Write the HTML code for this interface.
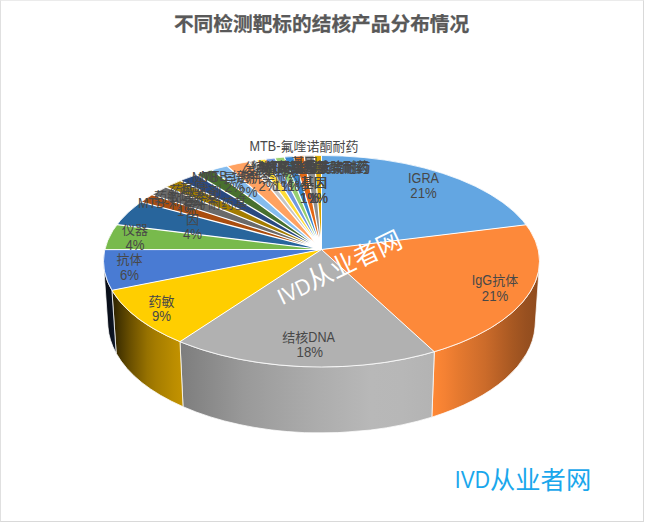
<!DOCTYPE html>
<html lang="zh"><head><meta charset="utf-8"><title>不同检测靶标的结核产品分布情况</title>
<style>
html,body{margin:0;padding:0;background:#fff;}
body{width:645px;height:524px;position:relative;overflow:hidden;}
#frame{position:absolute;left:0;top:0;width:642px;height:520px;border-top:1px solid #ebebeb;border-left:1px solid #e0e0e0;border-right:1px solid #d9d9d9;border-bottom:1px solid #d9d9d9;box-sizing:content-box;}
</style></head><body>
<div id="frame"></div>
<svg width="645" height="524" viewBox="0 0 645 524" style="position:absolute;left:0;top:0">
<defs><radialGradient id="burst"><stop offset="0" stop-color="#fff" stop-opacity="1"/><stop offset="0.6" stop-color="#fff" stop-opacity="0.8"/><stop offset="1" stop-color="#fff" stop-opacity="0"/></radialGradient><linearGradient id="g1" gradientUnits="userSpaceOnUse" x1="431.9" y1="0" x2="539.3" y2="0"><stop offset="0.000" stop-color="#FF8835"/><stop offset="0.125" stop-color="#F48133"/><stop offset="0.250" stop-color="#E5792F"/><stop offset="0.375" stop-color="#D8722D"/><stop offset="0.500" stop-color="#CB6B2A"/><stop offset="0.625" stop-color="#B96126"/><stop offset="0.750" stop-color="#A75822"/><stop offset="0.875" stop-color="#985020"/><stop offset="1.000" stop-color="#8F4B1D"/></linearGradient><linearGradient id="g2" gradientUnits="userSpaceOnUse" x1="180.0" y1="0" x2="434.3" y2="0"><stop offset="0.000" stop-color="#7D7D7D"/><stop offset="0.125" stop-color="#8B8B8B"/><stop offset="0.250" stop-color="#999999"/><stop offset="0.375" stop-color="#A2A2A2"/><stop offset="0.500" stop-color="#AAAAAA"/><stop offset="0.625" stop-color="#B1B1B1"/><stop offset="0.750" stop-color="#B8B8B8"/><stop offset="0.875" stop-color="#B7B7B7"/><stop offset="1.000" stop-color="#B3B3B3"/></linearGradient><linearGradient id="g3" gradientUnits="userSpaceOnUse" x1="111.9" y1="0" x2="183.0" y2="0"><stop offset="0.000" stop-color="#291F00"/><stop offset="0.125" stop-color="#4B3900"/><stop offset="0.250" stop-color="#684E00"/><stop offset="0.375" stop-color="#806000"/><stop offset="0.500" stop-color="#977200"/><stop offset="0.625" stop-color="#A67D00"/><stop offset="0.750" stop-color="#B08500"/><stop offset="0.875" stop-color="#BB8D00"/><stop offset="1.000" stop-color="#C49300"/></linearGradient><linearGradient id="g4" gradientUnits="userSpaceOnUse" x1="103.7" y1="0" x2="116.2" y2="0"><stop offset="0.000" stop-color="#070B14"/><stop offset="0.125" stop-color="#070C15"/><stop offset="0.250" stop-color="#080E18"/><stop offset="0.375" stop-color="#090F1A"/><stop offset="0.500" stop-color="#0A101C"/><stop offset="0.625" stop-color="#0B121F"/><stop offset="0.750" stop-color="#0C1423"/><stop offset="0.875" stop-color="#0E1727"/><stop offset="1.000" stop-color="#0F1A2C"/></linearGradient></defs>
<g><path d="M539.35 265.19 A218.00 105.75 0 0 1 434.30 351.74 L431.86 417.14 A213.67 110.36 0 0 0 535.01 327.00 Z" fill="url(#g1)" stroke="#fff" stroke-opacity="0.75" stroke-width="1" stroke-linejoin="round"/><path d="M434.30 351.74 A218.00 105.75 0 0 1 179.98 341.68 L183.02 406.68 A213.67 110.36 0 0 0 431.86 417.14 Z" fill="url(#g2)" stroke="#fff" stroke-opacity="0.75" stroke-width="1" stroke-linejoin="round"/><path d="M179.98 341.68 A218.00 105.75 0 0 1 111.90 290.32 L116.18 353.20 A213.67 110.36 0 0 0 183.02 406.68 Z" fill="url(#g3)" stroke="#fff" stroke-opacity="0.75" stroke-width="1" stroke-linejoin="round"/><path d="M111.90 290.32 A218.00 105.75 0 0 1 103.65 265.19 L107.99 327.00 A213.67 110.36 0 0 0 116.18 353.20 Z" fill="url(#g4)" stroke="#fff" stroke-opacity="0.75" stroke-width="1" stroke-linejoin="round"/></g>
<g><path d="M321.50 249.50 L321.50 155.50 A218.00 105.75 0 0 1 526.12 224.77 Z" fill="#63A6E2"/><path d="M321.50 249.50 L526.12 224.77 A218.00 105.75 0 0 1 434.30 351.74 Z" fill="#FD893A"/><path d="M321.50 249.50 L434.30 351.74 A218.00 105.75 0 0 1 179.98 341.68 Z" fill="#B1B1B1"/><path d="M321.50 249.50 L179.98 341.68 A218.00 105.75 0 0 1 111.90 290.32 Z" fill="#FFCE00"/><path d="M321.50 249.50 L111.90 290.32 A218.00 105.75 0 0 1 104.82 249.63 Z" fill="#497BD3"/><path d="M321.50 249.50 L104.82 249.63 A218.00 105.75 0 0 1 116.93 224.71 Z" fill="#78BA4C"/><path d="M321.50 249.50 L116.93 224.71 A218.00 105.75 0 0 1 140.93 202.00 Z" fill="#28659C"/><path d="M321.50 249.50 L140.93 202.00 A218.00 105.75 0 0 1 152.04 194.73 Z" fill="#AA4D0F"/><path d="M321.50 249.50 L152.04 194.73 A218.00 105.75 0 0 1 166.14 187.07 Z" fill="#6A6A6A"/><path d="M321.50 249.50 L166.14 187.07 A218.00 105.75 0 0 1 180.52 180.59 Z" fill="#A47C00"/><path d="M321.50 249.50 L180.52 180.59 A218.00 105.75 0 0 1 196.54 174.60 Z" fill="#294981"/><path d="M321.50 249.50 L196.54 174.60 A218.00 105.75 0 0 1 211.69 169.90 Z" fill="#48702E"/><path d="M321.50 249.50 L211.69 169.90 A218.00 105.75 0 0 1 227.17 165.92 Z" fill="#85BCEE"/><path d="M321.50 249.50 L227.17 165.92 A218.00 105.75 0 0 1 248.17 161.67 Z" fill="#FFA261"/><path d="M321.50 249.50 L248.17 161.67 A218.00 105.75 0 0 1 256.35 160.34 Z" fill="#C5C5C5"/><path d="M321.50 249.50 L256.35 160.34 A218.00 105.75 0 0 1 265.57 159.04 Z" fill="#FFDC37"/><path d="M321.50 249.50 L265.57 159.04 A218.00 105.75 0 0 1 274.89 157.95 Z" fill="#7199E0"/><path d="M321.50 249.50 L274.89 157.95 A218.00 105.75 0 0 1 284.17 157.06 Z" fill="#96CF70"/><path d="M321.50 249.50 L284.17 157.06 A218.00 105.75 0 0 1 293.63 156.37 Z" fill="#3686D1"/><path d="M321.50 249.50 L293.63 156.37 A218.00 105.75 0 0 1 304.00 155.84 Z" fill="#E26713"/><path d="M321.50 249.50 L304.00 155.84 A218.00 105.75 0 0 1 314.15 155.56 Z" fill="#8E8E8E"/><path d="M321.50 249.50 L314.15 155.56 A218.00 105.75 0 0 1 321.50 155.50 Z" fill="#DBA600"/></g>
<path d="M321.50 249.50 L321.50 155.50 M321.50 249.50 L526.12 224.77 M321.50 249.50 L434.30 351.74 M321.50 249.50 L179.98 341.68 M321.50 249.50 L111.90 290.32 M321.50 249.50 L104.82 249.63" stroke="#fff" stroke-width="1" fill="none"/><path d="M321.50 249.50 L116.93 224.71 M321.50 249.50 L140.93 202.00 M321.50 249.50 L152.04 194.73 M321.50 249.50 L166.14 187.07 M321.50 249.50 L180.52 180.59 M321.50 249.50 L196.54 174.60 M321.50 249.50 L211.69 169.90 M321.50 249.50 L227.17 165.92 M321.50 249.50 L248.17 161.67 M321.50 249.50 L256.35 160.34 M321.50 249.50 L265.57 159.04 M321.50 249.50 L274.89 157.95 M321.50 249.50 L284.17 157.06 M321.50 249.50 L293.63 156.37 M321.50 249.50 L304.00 155.84 M321.50 249.50 L314.15 155.56" stroke="#fff" stroke-width="1.25" fill="none"/>
<ellipse cx="321.50" cy="261.25" rx="218.00" ry="105.75" fill="none" stroke="#fff" stroke-opacity="0.8" stroke-width="1"/>
<g font-family="'Liberation Sans','Noto Sans CJK SC',sans-serif" font-size="13" fill="#484848" text-anchor="middle"><text x="423.5" y="182.8"><tspan font-size="14.2" textLength="30.9" lengthAdjust="spacingAndGlyphs">IGRA</tspan></text><text x="423.5" y="197.6"><tspan font-size="14.2" textLength="26.4" lengthAdjust="spacingAndGlyphs">21%</tspan></text><text x="495" y="285.0"><tspan font-size="14.2" textLength="20.4" lengthAdjust="spacingAndGlyphs">IgG</tspan>抗体</text><text x="495" y="300.5"><tspan font-size="14.2" textLength="26.4" lengthAdjust="spacingAndGlyphs">21%</tspan></text><text x="308.7" y="341.5">结核<tspan font-size="14.2" textLength="26.7" lengthAdjust="spacingAndGlyphs">DNA</tspan></text><text x="309.8" y="356.8"><tspan font-size="14.2" textLength="26.4" lengthAdjust="spacingAndGlyphs">18%</tspan></text><text x="161.5" y="306.1">药敏</text><text x="161.5" y="321.4"><tspan font-size="14.2" textLength="19.1" lengthAdjust="spacingAndGlyphs">9%</tspan></text><text x="129.5" y="263.9">抗体</text><text x="129.5" y="279.8"><tspan font-size="14.2" textLength="19.1" lengthAdjust="spacingAndGlyphs">6%</tspan></text><text x="135" y="234.4">仪器</text><text x="135" y="250.1"><tspan font-size="14.2" textLength="19.1" lengthAdjust="spacingAndGlyphs">4%</tspan></text><text x="192.5" y="208.3"><tspan font-size="14.2" textLength="30.9" lengthAdjust="spacingAndGlyphs">MTB-</tspan>利福平耐药基</text><text x="192.5" y="223.6">因</text><text x="192.5" y="238.9"><tspan font-size="14.2" textLength="19.1" lengthAdjust="spacingAndGlyphs">4%</tspan></text><text x="186.5" y="201.0">药敏培养基</text><text x="186.5" y="216.3"><tspan font-size="14.2" textLength="19.1" lengthAdjust="spacingAndGlyphs">1%</tspan></text><text x="195.5" y="194.5">药敏试剂</text><text x="195.5" y="209.8"><tspan font-size="14.2" textLength="19.1" lengthAdjust="spacingAndGlyphs">2%</tspan></text><text x="193.5" y="190.7">抗原</text><text x="193.5" y="206.0"><tspan font-size="14.2" textLength="19.1" lengthAdjust="spacingAndGlyphs">2%</tspan></text><text x="246.5" y="181.7"><tspan font-size="14.2" textLength="30.9" lengthAdjust="spacingAndGlyphs">MTB-</tspan>异烟肼类耐药</text><text x="248" y="196.8"><tspan font-size="14.2" textLength="19.1" lengthAdjust="spacingAndGlyphs">2%</tspan></text><text x="229.5" y="181.0"><tspan font-size="14.2" textLength="30.9" lengthAdjust="spacingAndGlyphs">MTB-</tspan>培养</text><text x="234.4" y="192.3"><tspan font-size="14.2" textLength="19.1" lengthAdjust="spacingAndGlyphs">2%</tspan></text><text x="268" y="176.5">结核<tspan font-size="14.2" textLength="26.7" lengthAdjust="spacingAndGlyphs">RNA</tspan></text><text x="268" y="191.0"><tspan font-size="14.2" textLength="19.1" lengthAdjust="spacingAndGlyphs">2%</tspan></text><text x="283" y="171.8">分枝杆菌鉴定</text><text x="283" y="190.6"><tspan font-size="14.2" textLength="19.1" lengthAdjust="spacingAndGlyphs">1%</tspan></text><text x="290" y="171.3">结核菌培养基</text><text x="290" y="190.8"><tspan font-size="14.2" textLength="19.1" lengthAdjust="spacingAndGlyphs">1%</tspan></text><text x="297" y="172.0">抗酸染色液</text><text x="297" y="190.5"><tspan font-size="14.2" textLength="19.1" lengthAdjust="spacingAndGlyphs">1%</tspan></text><text x="313.5" y="171.5"><tspan font-size="14.2" textLength="30.9" lengthAdjust="spacingAndGlyphs">MTB-</tspan>乙胺丁醇耐药</text><text x="314" y="187.3">基因</text><text x="309.5" y="203.2"><tspan font-size="14.2" textLength="19.1" lengthAdjust="spacingAndGlyphs">1%</tspan></text><text x="315.5" y="172.0"><tspan font-size="14.2" textLength="30.9" lengthAdjust="spacingAndGlyphs">MTB-</tspan>链霉素类耐药</text><text x="314" y="187.3">基因</text><text x="318.5" y="203.2"><tspan font-size="14.2" textLength="19.1" lengthAdjust="spacingAndGlyphs">1%</tspan></text><text x="314.5" y="171.2"><tspan font-size="14.2" textLength="30.9" lengthAdjust="spacingAndGlyphs">MTB-</tspan>吡嗪酰胺耐药</text><text x="314" y="187.3">基因</text><text x="309.5" y="203.2"><tspan font-size="14.2" textLength="19.1" lengthAdjust="spacingAndGlyphs">1%</tspan></text><text x="316" y="171.8"><tspan font-size="14.2" textLength="30.9" lengthAdjust="spacingAndGlyphs">MTB-</tspan>二线药物耐药</text><text x="314" y="187.3">基因</text><text x="318.5" y="203.2"><tspan font-size="14.2" textLength="19.1" lengthAdjust="spacingAndGlyphs">1%</tspan></text><text x="304" y="151.4"><tspan font-size="14.2" textLength="30.9" lengthAdjust="spacingAndGlyphs">MTB-</tspan>氟喹诺酮耐药</text><text x="304.5" y="167.0">基因</text><text x="309.5" y="203.2"><tspan font-size="14.2" textLength="19.1" lengthAdjust="spacingAndGlyphs">1%</tspan></text></g>
<clipPath id="bclip"><path d="M321.50 249.50 L103.59 264.26 A218.00 105.75 0 0 1 321.50 155.50 Z"/></clipPath><ellipse cx="317.5" cy="243.5" rx="8.5" ry="9.5" fill="url(#burst)" clip-path="url(#bclip)"/>
<text transform="translate(343.4,276) rotate(-25.6)" font-family="'Liberation Sans','Noto Sans CJK SC',sans-serif" font-size="25.4" fill="#fff" text-anchor="middle"><tspan font-size="22.6" textLength="34" lengthAdjust="spacingAndGlyphs">IVD</tspan><tspan dy="-0.8">从业者网</tspan></text>
<text font-family="'Liberation Sans','Noto Sans CJK SC',sans-serif" font-size="25.3" fill="#1AA7EC"><tspan x="454.8" y="487.9" font-size="23" textLength="35" lengthAdjust="spacingAndGlyphs">IVD</tspan><tspan x="490.0" y="489.2">从业者网</tspan></text>
<text x="321.6" y="30.5" stroke="#595959" stroke-width="0.25" font-family="'Liberation Sans','Noto Sans CJK SC',sans-serif" font-size="19.7" font-weight="bold" fill="#595959" text-anchor="middle">不同检测靶标的结核产品分布情况</text>
</svg>
</body></html>
